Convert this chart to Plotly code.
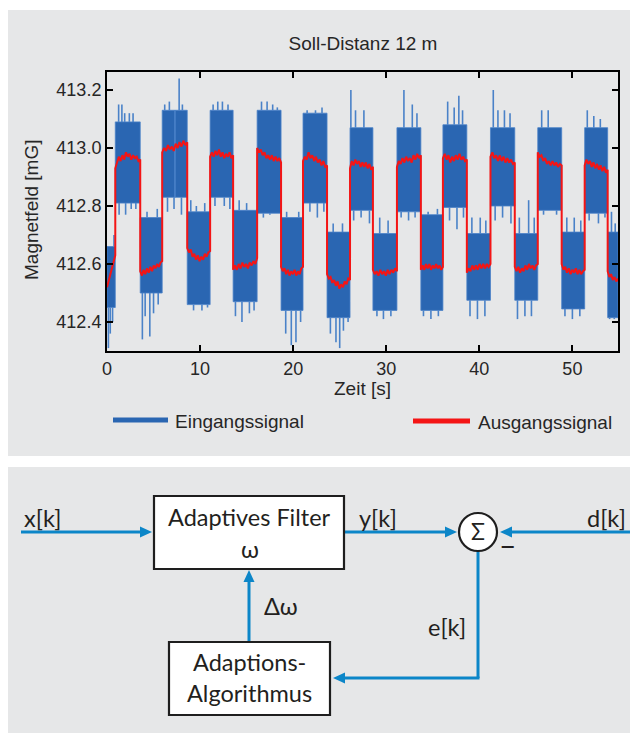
import numpy as np
import plotly.graph_objects as go

# ---------------- data ----------------
# transition times of the square-wave-like input signal [s]
seg_edges = [0.0, 0.89, 3.57, 5.93, 8.62, 11.08, 13.55, 16.13, 18.70, 21.06, 23.64,
             26.11, 28.57, 31.15, 33.72, 36.09, 38.66, 41.20, 43.81, 46.28, 48.85,
             51.32, 53.79, 54.90]
# dense core band of the input signal per segment [mG]
seg_lo = [412.45, 412.81, 412.50, 412.83, 412.46, 412.83, 412.47, 412.775, 412.44, 412.81,
          412.415, 412.785, 412.44, 412.78, 412.44, 412.795, 412.475, 412.80, 412.475,
          412.785, 412.445, 412.775, 412.415]
seg_hi = [412.66, 413.09, 412.76, 413.13, 412.78, 413.13, 412.785, 413.13, 412.76, 413.12,
          412.71, 413.07, 412.705, 413.07, 412.77, 413.08, 412.705, 413.07, 412.705,
          413.07, 412.71, 413.07, 412.71]
# isolated spikes of the input signal
spike_t = [0.15, 0.35, 0.60, 0.75,
           1.25, 1.60, 1.90, 2.40, 2.80, 1.30, 2.00, 2.60, 3.10,
           4.30, 5.40, 3.80, 4.10, 4.60, 5.00, 5.50,
           6.20, 6.70, 7.30, 7.75, 8.10, 6.50, 7.20, 8.00,
           9.00, 9.60, 10.50, 9.30, 10.20, 10.80,
           11.40, 11.90, 12.40, 13.00, 11.60, 12.60, 13.20,
           14.20, 15.00, 13.80, 14.50, 15.30, 15.80,
           16.60, 17.20, 17.80, 18.30, 16.80, 17.50,
           19.30, 20.60, 19.20, 19.80, 20.30, 20.80,
           21.50, 22.40, 23.10, 21.80, 22.60, 23.30,
           24.30, 25.30, 24.00, 24.60, 25.00, 25.40, 25.90,
           26.20, 26.70, 27.60, 26.50, 27.30, 28.20,
           29.30, 30.20, 29.00, 29.70, 30.50,
           31.90, 32.80, 33.30, 31.60, 32.40, 33.10,
           34.50, 35.50, 34.00, 34.80, 35.60,
           36.60, 37.30, 37.80, 38.20, 36.80, 37.60, 38.30,
           39.20, 40.10, 40.70, 39.00, 39.80, 40.60,
           41.50, 42.00, 42.70, 43.30, 41.70, 42.50, 43.40,
           44.30, 45.30, 45.90, 44.10, 44.90, 45.60,
           46.70, 47.40, 46.90, 48.30,
           49.40, 50.20, 50.90, 49.20, 50.00, 50.80,
           51.60, 52.30, 53.00, 51.80, 52.80, 53.50,
           54.20, 54.60, 54.00, 54.50]
spike_v = [412.31, 412.36, 412.40, 412.70,
           413.15, 413.15, 413.12, 413.12, 413.12, 412.77, 412.77, 412.79, 412.79,
           412.78, 412.79, 412.34, 412.42, 412.35, 412.43, 412.46,
           413.15, 413.16, 413.13, 413.24, 413.15, 412.78, 412.79, 412.77,
           412.82, 412.80, 412.81, 412.44, 412.44, 412.45,
           413.15, 413.16, 413.16, 413.15, 412.80, 412.80, 412.79,
           412.82, 412.81, 412.42, 412.40, 412.43, 412.44,
           413.16, 413.16, 413.15, 413.14, 412.76, 412.77,
           412.78, 412.78, 412.36, 412.32, 412.33, 412.40,
           413.13, 413.13, 413.14, 412.78, 412.76, 412.78,
           412.74, 412.74, 412.36, 412.33, 412.31, 412.37, 412.40,
           413.20, 413.13, 413.13, 412.75, 412.76, 412.74,
           412.76, 412.75, 412.42, 412.41, 412.42,
           413.20, 413.15, 413.12, 412.76, 412.75, 412.76,
           412.78, 412.79, 412.42, 412.41, 412.42,
           413.16, 413.14, 413.18, 413.13, 412.75, 412.72, 412.76,
           412.76, 412.76, 412.75, 412.42, 412.41, 412.42,
           413.20, 413.13, 413.13, 413.12, 412.75, 412.76, 412.74,
           412.76, 412.82, 412.76, 412.41, 412.42, 412.42,
           413.13, 413.13, 412.77, 412.77,
           412.76, 412.76, 412.75, 412.42, 412.41, 412.42,
           413.13, 413.11, 413.10, 412.75, 412.74, 412.76,
           412.78, 412.74, 412.41, 412.41]
# filtered output signal, samples per segment [mG]
red_vals = [
    [412.52, 412.535, 412.55, 412.56, 412.575, 412.59, 412.60, 412.615, 412.63],
    [412.93, 412.955, 412.97, 412.955, 412.975, 412.96, 412.985, 412.97, 412.98, 412.96, 412.975, 412.965, 412.97, 412.955, 412.96],
    [412.575, 412.56, 412.58, 412.565, 412.585, 412.57, 412.59, 412.575, 412.595, 412.585, 412.6, 412.59, 412.605, 412.61],
    [412.985, 413.0, 412.99, 413.01, 412.995, 413.005, 412.99, 413.015, 413.0, 413.02, 413.005, 413.025, 413.01, 413.02],
    [412.655, 412.64, 412.65, 412.625, 412.635, 412.615, 412.63, 412.61, 412.625, 412.615, 412.635, 412.625, 412.64, 412.645],
    [412.97, 412.985, 412.97, 412.99, 412.975, 412.995, 412.97, 412.985, 412.965, 412.98, 412.97, 412.985, 412.965, 412.975],
    [412.58, 412.595, 412.58, 412.6, 412.585, 412.605, 412.59, 412.6, 412.585, 412.605, 412.595, 412.61, 412.6, 412.62],
    [413.0, 412.985, 412.995, 412.975, 412.985, 412.965, 412.975, 412.96, 412.975, 412.955, 412.97, 412.955, 412.965, 412.95],
    [412.59, 412.575, 412.585, 412.565, 412.58, 412.56, 412.575, 412.565, 412.58, 412.56, 412.575, 412.565, 412.585, 412.59],
    [412.955, 412.97, 412.96, 412.985, 412.965, 412.975, 412.955, 412.97, 412.95, 412.96, 412.94, 412.955, 412.935, 412.94],
    [412.565, 412.55, 412.555, 412.535, 412.545, 412.525, 412.54, 412.515, 412.53, 412.52, 412.54, 412.53, 412.55, 412.545],
    [412.93, 412.955, 412.94, 412.96, 412.945, 412.955, 412.935, 412.95, 412.935, 412.95, 412.93, 412.945, 412.925, 412.935],
    [412.58, 412.565, 412.575, 412.56, 412.58, 412.565, 412.575, 412.56, 412.58, 412.565, 412.58, 412.57, 412.585, 412.575],
    [412.935, 412.955, 412.945, 412.965, 412.95, 412.97, 412.955, 412.965, 412.95, 412.975, 412.96, 412.98, 412.965, 412.975],
    [412.58, 412.595, 412.58, 412.6, 412.585, 412.6, 412.58, 412.595, 412.585, 412.6, 412.585, 412.595, 412.58, 412.59],
    [412.965, 412.98, 412.96, 412.975, 412.95, 412.97, 412.955, 412.975, 412.96, 412.98, 412.96, 412.97, 412.955, 412.96],
    [412.57, 412.585, 412.575, 412.595, 412.58, 412.595, 412.58, 412.6, 412.585, 412.6, 412.585, 412.6, 412.59, 412.6],
    [412.97, 412.985, 412.965, 412.975, 412.955, 412.975, 412.955, 412.97, 412.95, 412.965, 412.95, 412.96, 412.945, 412.95],
    [412.59, 412.575, 412.59, 412.57, 412.585, 412.575, 412.595, 412.58, 412.6, 412.585, 412.595, 412.58, 412.595, 412.6],
    [412.985, 412.97, 412.975, 412.955, 412.965, 412.945, 412.955, 412.94, 412.955, 412.94, 412.95, 412.935, 412.945, 412.94],
    [412.6, 412.58, 412.59, 412.57, 412.585, 412.565, 412.58, 412.57, 412.585, 412.565, 412.58, 412.565, 412.575, 412.58],
    [412.94, 412.96, 412.945, 412.955, 412.935, 412.95, 412.93, 412.945, 412.925, 412.94, 412.92, 412.935, 412.915, 412.925],
    [412.575, 412.555, 412.565, 412.545, 412.555, 412.54, 412.55],
]
x_ticks = [0, 10, 20, 30, 40, 50]
y_ticks = [412.4, 412.6, 412.8, 413.0, 413.2]
title_text = "Soll-Distanz 12 m"
x_label = "Zeit [s]"
y_label = "Magnetfeld [mG]"
legend_names = ["Eingangssignal", "Ausgangssignal"]

BLUE = "#2a66b2"
SPIKE = "#4a82c8"
RED = "#f41515"
FLOW = "#0c86c8"
PANEL = "#e6e7e8"
TXT = "#262626"
AX_FONT = "Liberation Sans, Arial, sans-serif"
DIA_FONT = "Lato, sans-serif"

# ---------------- traces ----------------
rx, ry = [], []
for i in range(len(seg_lo)):
    t0, t1 = seg_edges[i], seg_edges[i + 1]
    rx += [t0, t1, t1, t0, t0, None]
    ry += [seg_lo[i], seg_lo[i], seg_hi[i], seg_hi[i], seg_lo[i], None]

sx, sy = [], []
for t, v in zip(spike_t, spike_v):
    k = max(j for j in range(len(seg_lo)) if seg_edges[j] <= t)
    base = seg_hi[k] if v > seg_hi[k] else seg_lo[k]
    sx += [t, t, None]
    sy += [base, v, None]

red_t, red_y = [], []
for i, vals in enumerate(red_vals):
    ts = np.linspace(seg_edges[i], seg_edges[i + 1], len(vals))
    red_t += list(ts)
    red_y += vals

fig = go.Figure()
fig.add_trace(go.Scatter(x=rx, y=ry, mode="lines", fill="toself", fillcolor=BLUE,
                         line=dict(width=0.8, color=SPIKE), showlegend=False, hoverinfo="skip"))
fig.add_trace(go.Scatter(x=sx, y=sy, mode="lines", line=dict(width=1.6, color=SPIKE),
                         showlegend=False, hoverinfo="skip"))
fig.add_trace(go.Scatter(x=red_t, y=red_y, mode="lines", line=dict(width=2, color=RED),
                         showlegend=False))

# ---------------- layout helpers (pixel -> paper) ----------------
L, R, T, B = 107, 20, 72, 384
W, H = 638, 735
PW, PH = W - L - R, H - T - B


def px(x):
    return (x - L) / PW


def py(y):
    return (H - B - y) / PH


shapes = []
annotations = []

# grey panels
for (x0, y0, x1, y1) in [(8, 10, 630, 456), (8, 467, 630, 733)]:
    shapes.append(dict(type="rect", xref="paper", yref="paper", x0=px(x0), x1=px(x1),
                       y0=py(y1), y1=py(y0), fillcolor=PANEL, line=dict(width=0), layer="below"))

# legend
for (x0, x1, yy, col, name, tx) in [(113, 168, 420, BLUE, legend_names[0], 173),
                                     (413, 470, 421, RED, legend_names[1], 476)]:
    shapes.append(dict(type="line", xref="paper", yref="paper", x0=px(x0), x1=px(x1),
                       y0=py(yy), y1=py(yy), line=dict(color=col, width=5)))
    annotations.append(dict(xref="paper", yref="paper", x=px(tx), y=py(yy + 1), text=name,
                            showarrow=False, xanchor="left", yanchor="middle",
                            font=dict(family=AX_FONT, size=19, color=TXT)))

# axis titles
annotations.append(dict(xref="paper", yref="paper", x=px(362), y=py(388), text=x_label,
                        showarrow=False, xanchor="center", yanchor="middle",
                        font=dict(family=AX_FONT, size=19, color=TXT)))
annotations.append(dict(xref="paper", yref="paper", x=px(31), y=py(210), text=y_label,
                        showarrow=False, xanchor="center", yanchor="middle", textangle=-90,
                        font=dict(family=AX_FONT, size=19, color=TXT)))

# ---------------- block diagram ----------------
def line(x0, y0, x1, y1, color=FLOW, width=3):
    shapes.append(dict(type="line", xref="paper", yref="paper", x0=px(x0), y0=py(y0),
                       x1=px(x1), y1=py(y1), line=dict(color=color, width=width)))


def arrow_head(tx, ty, direction, length=12, half=5.5):
    if direction == "right":
        pts = [(tx, ty), (tx - length, ty - half), (tx - length, ty + half)]
    elif direction == "left":
        pts = [(tx, ty), (tx + length, ty - half), (tx + length, ty + half)]
    else:  # up
        pts = [(tx, ty), (tx - half, ty + length), (tx + half, ty + length)]
    path = "M " + " L ".join(f"{px(a):.5f},{py(b):.5f}" for a, b in pts) + " Z"
    shapes.append(dict(type="path", xref="paper", yref="paper", path=path,
                       fillcolor=FLOW, line=dict(width=0)))


def box(x0, y0, x1, y1):
    shapes.append(dict(type="rect", xref="paper", yref="paper", x0=px(x0), x1=px(x1),
                       y0=py(y1), y1=py(y0), fillcolor="white",
                       line=dict(color="#1e1e1e", width=2.2)))


def label(x, y, text, anchor="center", size=23.5):
    annotations.append(dict(xref="paper", yref="paper", x=px(x), y=py(y), text=text,
                            showarrow=False, xanchor=anchor, yanchor="middle",
                            font=dict(family=DIA_FONT, size=size, color="#231f20")))


# signal flow lines
line(21, 532, 141, 532); arrow_head(152, 532, "right")
line(344, 532, 446, 532); arrow_head(457, 532, "right")
line(630, 532, 511, 532); arrow_head(500, 532, "left")
line(478, 551, 478, 678); line(479.5, 678, 344, 678); arrow_head(333, 678, "left")
line(249, 642, 249, 581); arrow_head(249, 570, "up")

box(154, 496, 344, 569)
box(169, 642, 330, 715)
shapes.append(dict(type="circle", xref="paper", yref="paper", x0=px(459), x1=px(497),
                   y0=py(551), y1=py(513), fillcolor="white",
                   line=dict(color="#1e1e1e", width=2.2)))

label(22, 518, "x[k]", "left")
label(249.5, 517, "Adaptives Filter")
label(250, 549, "ω")
label(357, 518, "y[k]", "left")
label(478, 531, "Σ", size=23)
label(507, 544, "–", size=30)
label(628, 518, "d[k]", "right")
label(262, 606, "Δω", "left")
label(468, 627, "e[k]", "right")
label(249, 662, "Adaptions-")
label(249, 693, "Algorithmus")

fig.update_layout(
    width=W, height=H,
    margin=dict(l=L, r=R, t=T, b=B, pad=0),
    paper_bgcolor="white", plot_bgcolor="white",
    showlegend=False,
    title=dict(text=title_text, x=px(363), xref="paper", xanchor="center",
               y=1 - 43 / H, yref="container", yanchor="middle",
               font=dict(family=AX_FONT, size=19, color=TXT)),
    shapes=shapes, annotations=annotations,
    xaxis=dict(range=[0, 54.9], tickvals=x_ticks, ticks="inside", ticklen=6, tickwidth=2,
               tickcolor="black", showline=True, linecolor="black", linewidth=2,
               mirror="ticks", showgrid=False, zeroline=False,
               tickfont=dict(family=AX_FONT, size=18, color=TXT)),
    yaxis=dict(range=[412.30, 413.262], tickvals=y_ticks, tickformat=".1f", ticks="inside",
               ticklen=6, tickwidth=2, tickcolor="black", showline=True, linecolor="black",
               linewidth=2, mirror="ticks", showgrid=False, zeroline=False,
               tickfont=dict(family=AX_FONT, size=18, color=TXT)),
)

fig.write_html("out.html")
